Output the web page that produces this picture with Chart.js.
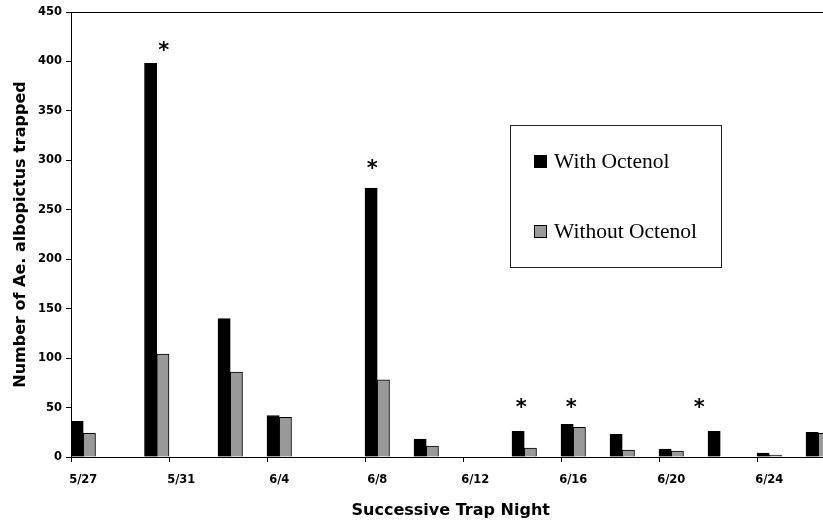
<!DOCTYPE html>
<html>
<head>
<meta charset="utf-8">
<script src="https://cdn.jsdelivr.net/npm/chart.js@4.4.1/dist/chart.umd.min.js"></script>
<style>
  html, body { margin: 0; padding: 0; background: #fff; overflow: hidden; }
  #wrap { width: 823px; height: 525px; overflow: hidden; }
</style>
</head>
<body>
<div id="wrap"><canvas id="chart" width="840" height="525"></canvas></div>
<script>
// Trap nights (one slot per calendar day)
var nights = ['5/27', '5/28', '5/29', '5/30', '5/31', '6/1', '6/2', '6/3', '6/4', '6/5',
    '6/6', '6/7', '6/8', '6/9', '6/10', '6/11', '6/12', '6/13', '6/14', '6/15',
    '6/16', '6/17', '6/18', '6/19', '6/20', '6/21', '6/22', '6/23', '6/24', '6/25', '6/26'];

var withOctenol = [36, null, null, 398, null, null, 140, null, 42, null,
    null, null, 272, null, 18, null, null, null, 26, null,
    33, null, 23, null, 8, null, 26, null, 4, null, 25];

var withoutOctenol = [24, null, null, 104, null, null, 86, null, 40, null,
    null, null, 78, null, 11, null, null, null, 9, null,
    30, null, 7, null, 6, null, null, null, 2, null, 24];

// significant nights and the height (trap count) the asterisk sits at
var starNights = ['5/30', '6/8', '6/14', '6/16', '6/22'];
var starLevels = [416, 296, 55, 55, 55];

var yTicks = [0, 50, 100, 150, 200, 250, 300, 350, 400, 450];

var tickFont = { family: '"DejaVu Sans"', size: 11.5, weight: 'bold' };
var titleFont = { family: '"DejaVu Sans"', size: 16, weight: 'bold' };

// frame line along the top of the plot area
var frame = {
    id: 'frame',
    afterDraw: function (chart) {
        var a = chart.chartArea, ctx = chart.ctx;
        ctx.save();
        ctx.strokeStyle = '#000';
        ctx.lineWidth = 1;
        ctx.beginPath();
        ctx.moveTo(a.left, a.top + 0.5);
        ctx.lineTo(a.right + 20, a.top + 0.5);
        ctx.stroke();
        ctx.restore();
    }
};

// asterisks over significant nights
var stars = {
    id: 'stars',
    afterDatasetsDraw: function (chart) {
        var x = chart.scales.x, y = chart.scales.y, ctx = chart.ctx;
        var day = x.getPixelForValue(1) - x.getPixelForValue(0);
        var nudge = [0.29, -0.2, -0.12, -0.08, -0.86];
        ctx.save();
        ctx.fillStyle = '#000';
        ctx.font = 'bold 21px "DejaVu Sans"';
        ctx.textAlign = 'center';
        ctx.textBaseline = 'alphabetic';
        var m = ctx.measureText('*');
        var mid = (m.actualBoundingBoxAscent - m.actualBoundingBoxDescent) / 2;
        starNights.forEach(function (n, i) {
            var px = x.getPixelForValue(nights.indexOf(n)) + nudge[i] * day;
            var py = y.getPixelForValue(starLevels[i]);
            ctx.fillText('*', px, py + mid);
        });
        ctx.restore();
    }
};

// boxed legend inside the plot
var boxLegend = {
    id: 'boxLegend',
    afterDraw: function (chart) {
        var ctx = chart.ctx;
        ctx.save();
        ctx.strokeStyle = '#222';
        ctx.lineWidth = 1;
        ctx.strokeRect(510.5, 125.5, 211, 142);
        ctx.font = '21.5px "Liberation Serif"';
        ctx.textBaseline = 'alphabetic';
        ctx.textAlign = 'left';
        var rows = [168, 238];
        chart.data.datasets.forEach(function (ds, i) {
            ctx.fillStyle = ds.backgroundColor;
            ctx.fillRect(534.5, rows[i] - 12.5, 12, 12);
            ctx.strokeStyle = '#000';
            ctx.strokeRect(534.5, rows[i] - 12.5, 12, 12);
            ctx.fillStyle = '#000';
            ctx.fillText(ds.label, 554, rows[i]);
        });
        ctx.restore();
    }
};

new Chart(document.getElementById('chart'), {
    type: 'bar',
    data: {
        labels: nights,
        datasets: [
            { label: 'With Octenol', data: withOctenol, backgroundColor: '#000000',
              borderColor: '#000', borderWidth: 1 },
            { label: 'Without Octenol', data: withoutOctenol, backgroundColor: '#999999',
              borderColor: '#000', borderWidth: 1 }
        ]
    },
    options: {
        responsive: false,
        animation: false,
        layout: { padding: { top: 12, right: 9.5, left: 0, bottom: 0 } },
        datasets: { bar: { categoryPercentage: 1, barPercentage: 1 } },
        plugins: { legend: { display: false }, tooltip: { enabled: false } },
        scales: {
            x: {
                afterFit: function (s) { s.height = 68; },
                grid: {
                    offset: true,
                    drawOnChartArea: false,
                    tickLength: 5,
                    color: function (c) { return c.index % 4 === 0 ? '#000' : 'rgba(0,0,0,0)'; }
                },
                border: { color: '#000', width: 1 },
                ticks: {
                    autoSkip: false, maxRotation: 0, padding: 11,
                    color: '#000', font: tickFont,
                    callback: function (v, i) { return i % 4 === 0 ? nights[i] : ''; }
                },
                title: { display: true, text: 'Successive Trap Night', color: '#000',
                         font: titleFont, padding: { top: 0, bottom: 5 } }
            },
            y: {
                min: 0, max: 450,
                afterFit: function (s) { s.width = 71; },
                afterBuildTicks: function (s) { s.ticks = yTicks.map(function (v) { return { value: v }; }); },
                grid: { drawOnChartArea: false, tickLength: 5, color: '#000' },
                border: { color: '#000', width: 1 },
                ticks: { padding: 4, color: '#000', font: tickFont },
                title: { display: true, text: 'Number of Ae. albopictus trapped', color: '#000',
                         font: titleFont, padding: { top: 11.4, bottom: 0 } }
            }
        }
    },
    plugins: [frame, stars, boxLegend]
});
</script>
</body>
</html>
